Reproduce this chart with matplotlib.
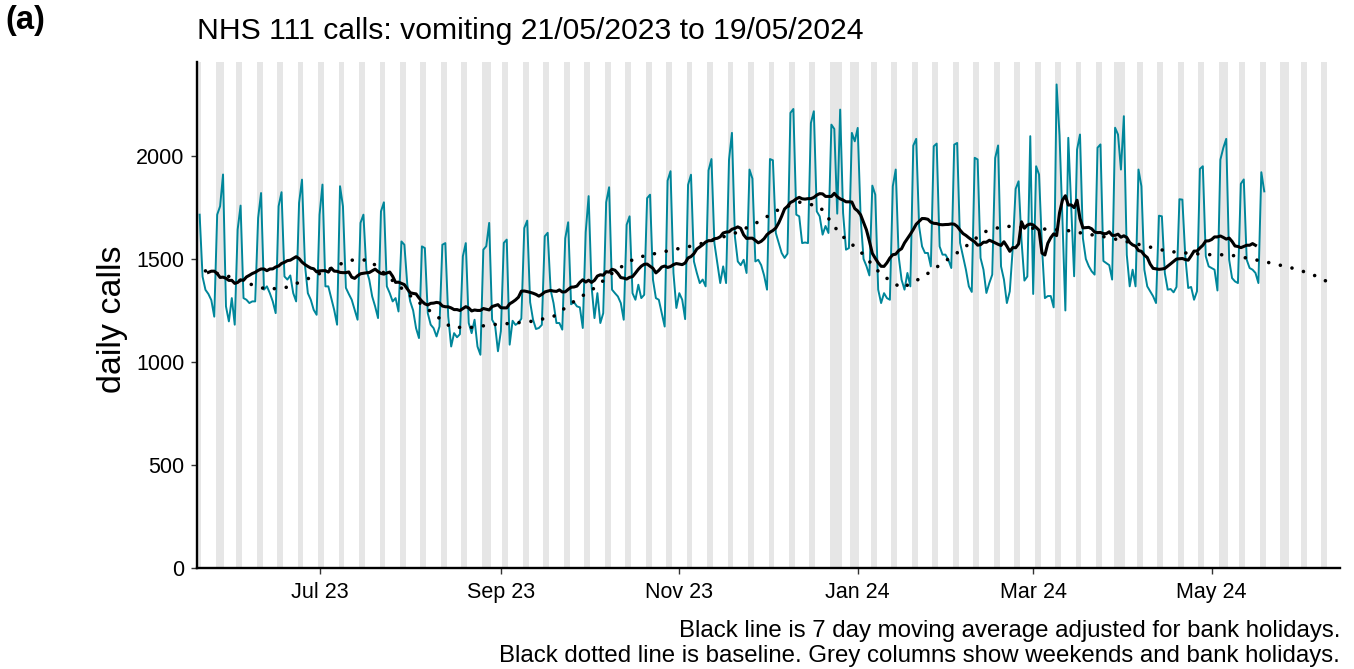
import numpy as np
import pandas as pd
import matplotlib
matplotlib.use("Agg")
import matplotlib.pyplot as plt

plt.rcParams['font.family'] = ['Liberation Sans', 'DejaVu Sans']

# ---------------- data ----------------
start_date = "2023-05-21"
# daily NHS 111 vomiting calls, one row per week (Sun .. Sat)
daily_calls = [
    1715, 1414, 1350, 1330, 1300, 1220, 1715,
    1756, 1910, 1270, 1197, 1310, 1181, 1643,
    1759, 1310, 1302, 1286, 1294, 1294, 1699,
    1820, 1351, 1367, 1334, 1294, 1237, 1756,
    1824, 1415, 1400, 1420, 1334, 1294, 1772,
    1885, 1472, 1334, 1302, 1253, 1229, 1715,
    1861, 1367, 1367, 1310, 1253, 1181, 1853,
    1756, 1360, 1330, 1302, 1253, 1205, 1675,
    1715, 1448, 1399, 1318, 1270, 1213, 1731,
    1775, 1367, 1334, 1294, 1310, 1245, 1585,
    1569, 1375, 1294, 1250, 1164, 1116, 1561,
    1553, 1237, 1181, 1164, 1124, 1172, 1569,
    1577, 1220, 1075, 1140, 1120, 1135, 1513,
    1577, 1189, 1140, 1205, 1075, 1035, 1545,
    1562, 1675, 1205, 1180, 1052, 1150, 1578,
    1594, 1084, 1200, 1180, 1190, 1210, 1650,
    1686, 1290, 1205, 1160, 1165, 1180, 1610,
    1627, 1350, 1286, 1189, 1189, 1157, 1600,
    1678, 1280, 1290, 1270, 1265, 1165, 1630,
    1805, 1367, 1213, 1334, 1189, 1237, 1775,
    1848, 1351, 1334, 1318, 1286, 1205, 1666,
    1707, 1334, 1302, 1375, 1310, 1326, 1795,
    1812, 1399, 1310, 1302, 1237, 1172, 1880,
    1926, 1432, 1262, 1334, 1302, 1208, 1860,
    1909, 1488, 1432, 1383, 1400, 1367, 1930,
    1985, 1577, 1480, 1383, 1464, 1383, 1982,
    2112, 1610, 1488, 1470, 1496, 1432, 1934,
    1890, 1488, 1496, 1470, 1420, 1351, 1985,
    1979, 1626, 1577, 1529, 1505, 1526, 2209,
    2228, 1715, 1707, 1577, 1580, 1577, 2160,
    2217, 1731, 1707, 1618, 1660, 1626, 2152,
    2131, 1720, 2225, 1723, 1545, 1553, 2112,
    2071, 2136, 1700, 1500, 1465, 1420, 1856,
    1812, 1351, 1286, 1334, 1310, 1302, 1853,
    1934, 1513, 1399, 1351, 1432, 1367, 2050,
    2083, 1658, 1561, 1529, 1529, 1464, 2047,
    2060, 1561, 1521, 1521, 1496, 1456, 2055,
    2063, 1578, 1513, 1448, 1367, 1340, 1991,
    1983, 1505, 1448, 1335, 1383, 1424, 1990,
    2051, 1464, 1400, 1286, 1343, 1550, 1840,
    1877, 1590, 1395, 1415, 2096, 1330, 1950,
    1910, 1560, 1310, 1320, 1320, 1265, 2347,
    2100, 1691, 1250, 2088, 1756, 1416, 2031,
    2104, 1600, 1500, 1465, 1440, 1424, 2040,
    2056, 1490, 1480, 1470, 1400, 2137, 2104,
    1934, 2193, 1520, 1367, 1448, 1367, 1934,
    1853, 1448, 1367, 1343, 1319, 1286, 1710,
    1707, 1432, 1351, 1354, 1338, 1364, 1790,
    1788, 1513, 1359, 1364, 1302, 1343, 1937,
    1950, 1513, 1464, 1456, 1448, 1347, 1982,
    2039, 2083, 1496, 1407, 1391, 1383, 1865,
    1886, 1496, 1456, 1448, 1432, 1383, 1921,
    1828,
]

# baseline, one value per week
baseline_start = "2023-05-23"
baseline_calls = [
    1442, 1420, 1384, 1352, 1363, 1404, 1448, 1494, 1495, 1407,
    1322, 1245, 1168, 1168, 1181, 1188, 1198, 1221, 1294, 1359,
    1442, 1505, 1527, 1548, 1568, 1598, 1630, 1680, 1740, 1776,
    1755, 1620, 1535, 1425, 1358, 1410, 1480, 1550, 1630, 1660,
    1652, 1645, 1640, 1622, 1606, 1584, 1561, 1537, 1528, 1521,
    1520, 1502, 1481, 1458, 1428, 1380,
]

bank_holidays = ["2023-05-29", "2023-08-28", "2023-12-25", "2023-12-26",
                 "2024-01-01", "2024-03-29", "2024-04-01", "2024-05-06",
                 "2024-05-27"]

y_ticks = [0, 500, 1000, 1500, 2000]
x_tick_dates = ["2023-07-01", "2023-09-01", "2023-11-01",
                "2024-01-01", "2024-03-01", "2024-05-01"]
x_tick_labels = ["Jul 23", "Sep 23", "Nov 23", "Jan 24", "Mar 24", "May 24"]

title_text = "NHS 111 calls: vomiting 21/05/2023 to 19/05/2024"
caption_lines = ["Black line is 7 day moving average adjusted for bank holidays.",
                 "Black dotted line is baseline. Grey columns show weekends and bank holidays."]

# ---------------- derived series ----------------
dates = pd.date_range(start_date, periods=len(daily_calls), freq="D")
calls = pd.Series(daily_calls, index=dates, dtype=float)
bh = set(pd.to_datetime(bank_holidays))

# bank-holiday adjustment: use the same weekday of the previous normal week
adjusted = calls.copy()
for h in sorted(bh):
    if h in adjusted.index:
        prev = h - pd.Timedelta(days=7)
        while prev in bh:
            prev -= pd.Timedelta(days=7)
        if prev in calls.index:
            adjusted[h] = calls[prev]
moving_avg = adjusted.rolling(7, center=True).mean()
base_dates = pd.date_range(baseline_start, periods=len(baseline_calls), freq="7D")

# ---------------- figure ----------------
W, H = 1354, 669
fig = plt.figure(figsize=(W / 100, H / 100), dpi=100)
ax = fig.add_axes([197 / W, 101 / H, 1143 / W, 506 / H])

x_left = pd.Timestamp(start_date) - pd.Timedelta(hours=21.6)
x_right = pd.Timestamp("2024-06-13") + pd.Timedelta(hours=21.6)

# grey columns: weekends and bank holidays
all_days = pd.date_range(x_left.normalize(), x_right.normalize() + pd.Timedelta(days=1), freq="D")
for d in all_days:
    if d.weekday() >= 5 or d in bh:
        ax.axvspan(d - pd.Timedelta(hours=12), d + pd.Timedelta(hours=12),
                   color="#e6e6e6", lw=0, zorder=0)

ax.plot(dates, calls.values, color="#00869a", lw=1.4, zorder=2)
ax.plot(base_dates, baseline_calls, color="black", lw=2.6,
        linestyle=(0, (0.01, 3.3)), dash_capstyle="round", zorder=3)
ax.plot(dates, moving_avg.values, color="black", lw=2.2, zorder=4)

ax.set_xlim(x_left, x_right)
ax.set_ylim(0, 2456)
ax.set_yticks(y_ticks)
ax.set_yticklabels([str(v) for v in y_ticks])
ax.set_xticks(pd.to_datetime(x_tick_dates))
ax.set_xticklabels(x_tick_labels)

for side in ["top", "right"]:
    ax.spines[side].set_visible(False)
for side in ["left", "bottom"]:
    ax.spines[side].set_linewidth(1.7)
    ax.spines[side].set_color("black")
ax.tick_params(axis="both", direction="out", length=4, width=1.0,
               labelsize=15.5, colors="#333333", labelcolor="black")
ax.tick_params(axis="y", pad=5)
ax.tick_params(axis="x", pad=6)

fig.text(113 / W, 1 - 319 / H, "daily calls", fontsize=24.5, rotation=90,
         ha="center", va="center")
fig.text(197 / W, 1 - 31 / H, title_text, fontsize=21.7, ha="left", va="center")
fig.text(5 / W, 1 - 20 / H, "(a)", fontsize=23.5, fontweight="bold", ha="left", va="center")
for i, line in enumerate(caption_lines):
    fig.text(1340 / W, 1 - (637 + 25 * i) / H, line, fontsize=17.3,
             ha="right", va="baseline")

fig.savefig("out.png", dpi=100)
